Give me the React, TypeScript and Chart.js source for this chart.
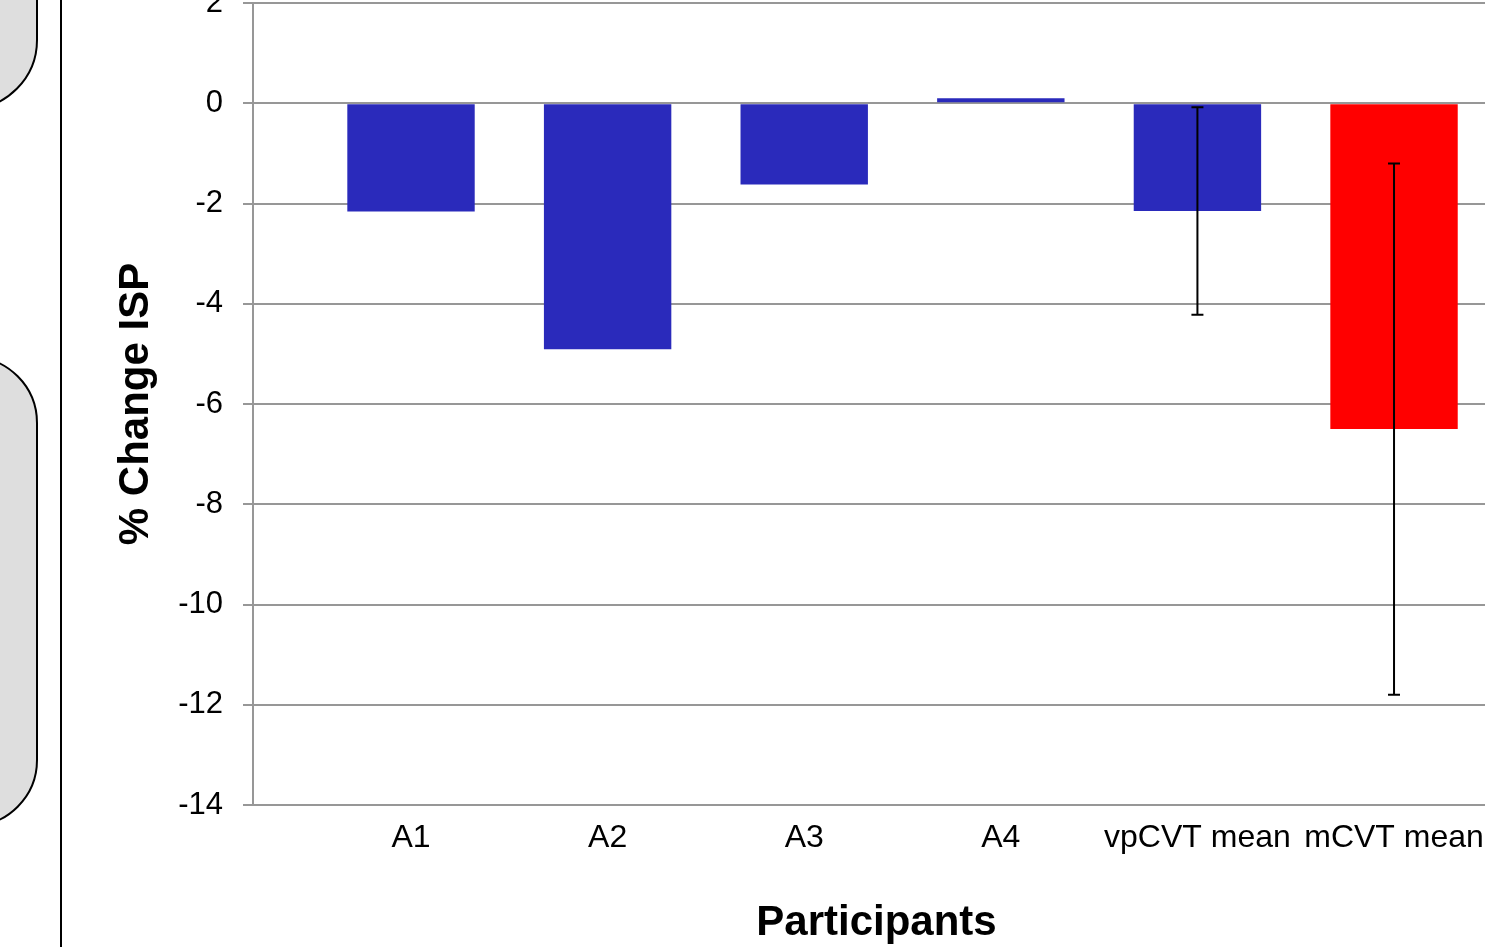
import React, { useEffect, useRef } from "react";
import { Chart, registerables } from "chart.js";

Chart.register(...registerables);

const categories = ["A1", "A2", "A3", "A4", "vpCVT mean", "mCVT mean"];
const values = [-2.16, -4.91, -1.62, 0.1, -2.15, -6.5];
const errors: (number | null)[] = [null, null, null, null, 2.07, 5.3];
const barColors = ["#2A2ABB", "#2A2ABB", "#2A2ABB", "#2A2ABB", "#2A2ABB", "#FF0000"];
const yMin = -14;
const yMax = 2;
const yStep = 2;
const xTitle = "Participants";
const yTitle = "% Change ISP";

const GRID = "#979797";
const FONT = "'Liberation Sans', Arial, sans-serif";

const errorBarPlugin = {
  id: "errorBars",
  afterDatasetsDraw(chart: any) {
    const meta = chart.getDatasetMeta(0);
    const y = chart.scales.y;
    const ctx = chart.ctx;
    ctx.save();
    ctx.strokeStyle = "#000";
    ctx.lineWidth = 2;
    errors.forEach((e, i) => {
      if (e == null) return;
      const el = meta.data[i];
      const x = el.x;
      const top = y.getPixelForValue(values[i] + e);
      const bot = y.getPixelForValue(values[i] - e);
      ctx.beginPath();
      ctx.moveTo(x, top);
      ctx.lineTo(x, bot);
      ctx.moveTo(x - 6, top);
      ctx.lineTo(x + 6, top);
      ctx.moveTo(x - 6, bot);
      ctx.lineTo(x + 6, bot);
      ctx.stroke();
    });
    ctx.restore();
  },
};

export default function App() {
  const ref = useRef<HTMLCanvasElement>(null);
  useEffect(() => {
    if (!ref.current) return;
    Chart.defaults.font.family = FONT;
    const chart = new Chart(ref.current, {
      type: "bar",
      data: {
        datasets: [
          {
            data: categories.map((_, i) => ({ x: i, y: values[i] })) as any,
            backgroundColor: barColors,
            borderWidth: 0,
            categoryPercentage: 0.8,
            barPercentage: 0.81,
          },
        ],
      },
      options: {
        animation: false,
        responsive: false,
        devicePixelRatio: 1,
        layout: { padding: { top: 43, left: 115.5, right: 0, bottom: 0 } },
        plugins: { legend: { display: false }, tooltip: { enabled: false } },
        scales: {
          x: {
            type: "linear",
            position: "bottom",
            offset: false,
            min: -0.8037,
            max: 5.539,
            grid: { display: false, drawTicks: false, offset: false },
            border: { display: true, color: GRID, width: 2 },
            ticks: {
              stepSize: 1,
              includeBounds: false,
              autoSkip: false,
              maxRotation: 0,
              padding: 14,
              color: "#000",
              font: { size: 32 },
              callback: (v: any) => categories[v as number] ?? "",
            },
            title: {
              display: true,
              text: xTitle,
              color: "#000",
              font: { size: 42, weight: "bold", lineHeight: 1 },
              padding: { top: 30.6, bottom: 0 },
            },
          },
          y: {
            min: yMin,
            max: yMax,
            grid: { color: GRID, lineWidth: 2, tickLength: 10 },
            border: { display: true, color: GRID, width: 2 },
            ticks: {
              stepSize: yStep,
              padding: 20,
              color: "#000",
              font: { size: 31 },
            },
            title: {
              display: true,
              text: yTitle,
              color: "#000",
              font: { size: 42, weight: "bold", lineHeight: 1 },
              padding: { top: 0, bottom: 0.7 },
            },
          },
        },
      },
      plugins: [errorBarPlugin],
    });
    return () => chart.destroy();
  }, []);

  return (
    <div style={{ position: "fixed", left: 0, top: 0, width: 1485, height: 947, overflow: "hidden", background: "#fff" }}>
      <canvas ref={ref} width={1500} height={984} style={{ position: "absolute", left: 0, top: -40 }} />
      <div
        style={{
          position: "absolute", left: -60, top: -20, width: 98, height: 130, boxSizing: "border-box",
          background: "#dedede", border: "2px solid #000", borderBottomRightRadius: 70,
        }}
      />
      <div
        style={{
          position: "absolute", left: -60, top: 356, width: 98, height: 471, boxSizing: "border-box",
          background: "#dedede", border: "2px solid #000", borderTopRightRadius: 67, borderBottomRightRadius: 67,
        }}
      />
      <div style={{ position: "absolute", left: 60, top: 0, width: 2, height: 947, background: "#000" }} />
    </div>
  );
}
